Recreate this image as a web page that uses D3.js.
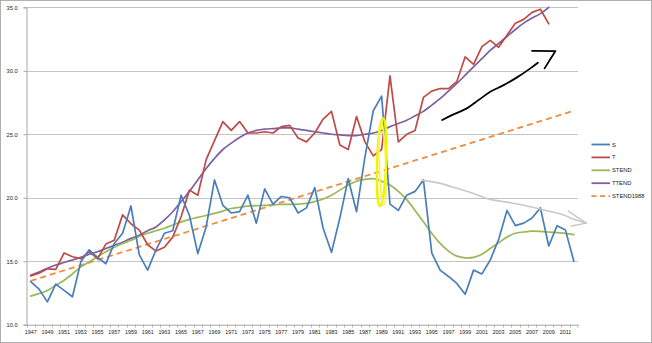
<!DOCTYPE html>
<html><head><meta charset="utf-8">
<script src="https://cdn.jsdelivr.net/npm/d3@7"></script>
<style>html,body{margin:0;padding:0;background:#fff;}svg{display:block;}</style>
</head><body>
<svg id="c" width="652" height="343"></svg>
<script>
const years = d3.range(1947, 2013);
const S = [13.4,12.8,11.8,13.2,12.7,12.2,14.95,15.9,15.3,14.8,16.4,17.2,19.35,15.5,14.3,15.9,17.2,17.4,20.2,18.6,15.6,17.7,21.4,19.4,18.8,18.9,20.2,18.0,20.7,19.5,20.1,20.0,18.8,19.2,20.8,17.6,15.7,18.4,21.5,18.9,23.2,26.85,28.0,19.5,19.0,20.2,20.5,21.4,15.65,14.3,13.8,13.25,12.4,14.3,14.0,15.1,16.7,19.0,17.8,18.0,18.4,19.2,16.2,17.8,17.45,15.0];
const T = [13.85,14.05,14.4,14.35,15.65,15.35,15.2,15.75,15.2,16.35,16.65,18.65,17.95,17.45,16.3,15.8,16.1,16.9,18.5,20.6,20.2,23.0,24.5,26.0,25.3,26.0,25.1,25.1,25.2,25.1,25.6,25.7,24.7,24.4,25.1,26.2,26.8,24.15,23.8,26.4,24.4,23.3,23.8,29.6,24.4,25.0,25.3,27.9,28.4,28.6,28.6,29.15,31.1,30.5,31.9,32.4,31.85,32.8,33.75,34.05,34.6,34.85,33.7];
const STEND = [12.25,12.45,12.7,13.1,13.5,14.0,14.55,14.95,15.35,15.75,16.1,16.4,16.65,16.95,17.2,17.4,17.6,17.85,18.1,18.3,18.45,18.6,18.77,18.95,19.15,19.25,19.34,19.38,19.4,19.45,19.47,19.48,19.5,19.55,19.7,19.9,20.2,20.6,21.0,21.3,21.45,21.5,21.3,21.0,20.5,19.85,19.0,18.1,17.2,16.4,15.8,15.4,15.27,15.3,15.55,16.0,16.45,16.9,17.2,17.3,17.37,17.35,17.3,17.25,17.2,17.1];
const TTEND = [13.9,14.15,14.45,14.7,14.9,15.1,15.3,15.55,15.75,16.0,16.25,16.5,16.8,17.05,17.4,17.7,18.25,18.9,19.7,20.5,21.4,22.3,23.1,23.8,24.3,24.75,25.1,25.3,25.4,25.45,25.5,25.5,25.4,25.3,25.2,25.1,25.0,24.95,24.9,24.9,25.0,25.1,25.3,25.6,25.85,26.1,26.45,26.8,27.3,27.8,28.4,29.0,29.65,30.3,30.95,31.6,32.15,32.7,33.25,33.75,34.15,34.5,35.0];
const STEND1988 = [13.45,13.66,13.86,14.07,14.27,14.48,14.69,14.89,15.10,15.31,15.51,15.72,15.92,16.13,16.34,16.54,16.75,16.96,17.16,17.37,17.57,17.78,17.99,18.19,18.40,18.61,18.81,19.02,19.22,19.43,19.64,19.84,20.05,20.25,20.46,20.67,20.87,21.08,21.29,21.49,21.70,21.90,22.11,22.32,22.52,22.73,22.94,23.14,23.35,23.55,23.76,23.97,24.17,24.38,24.58,24.79,25.00,25.20,25.41,25.62,25.82,26.03,26.23,26.44,26.65,26.85];
const yTicks = [10,15,20,25,30,35];
const seriesNames = ["S","T","STEND","TTEND","STEND1988"];
const colors = ["#4a7ebb","#be4b48","#98b954","#7d60a0","#f38b3c"];

// hand-drawn annotations (year, value)
const blackStroke = [[1996.25,26.12],[1997.4,26.51],[1999.2,27.04],[2000.6,27.69],[2002.0,28.35],[2003.6,28.87],[2005.2,29.48],[2006.8,30.19],[2007.7,30.63]];
const blackHook = [[2007.0,31.57],[2009.8,31.55],[2008.5,30.19]];
const grayStroke = [[1993.8,21.39],[1996.0,21.13],[1998.0,20.74],[2000.0,20.34],[2002.0,19.87],[2004.4,19.61],[2006.8,19.29],[2008.8,18.98],[2010.8,18.64],[2011.9,18.32],[2013.5,18.0]];
const grayHead = [[2011.33,18.95],[2013.5,18.0],[2011.7,17.77]];
const yellowMark = [1989.0, 22.8];

const svg = d3.select("#c");
const font = "'Liberation Sans', Arial, sans-serif";
svg.append("rect").attr("x",0.5).attr("y",0.5).attr("width",651).attr("height",342).attr("fill","#fff").attr("stroke","#b0b0b0").attr("stroke-width",1);

const x = d3.scaleBand().domain(years).range([26.5, 578]);
const bw = x.bandwidth();
const cx = d => x(d) + bw/2;
const y = d3.scaleLinear().domain([10,35]).range([324.7, 7.3]);
const xl = d3.scaleLinear().domain([1947,2012]).range([cx(1947), cx(2012)]);

// gridlines
svg.append("g").selectAll("line").data(yTicks.filter(t=>t>10)).join("line")
  .attr("x1",26.5).attr("x2",578).attr("y1",d=>Math.round(y(d))+0.5).attr("y2",d=>Math.round(y(d))+0.5)
  .attr("stroke","#c4c4c4").attr("stroke-width",1);

// y axis
const yAxis = svg.append("g").attr("transform","translate(26.5,0)")
  .call(d3.axisLeft(y).tickValues(yTicks).tickSize(3).tickFormat(d3.format(".1f")));
yAxis.select(".domain").attr("stroke","#a6a6a6");
yAxis.selectAll(".tick line").attr("stroke","#a6a6a6");
yAxis.selectAll("text").attr("font-family",font).attr("font-size","5.6px").attr("fill","#222").attr("x",-9);

// x axis
const xAxis = svg.append("g").attr("transform","translate(0,324.7)")
  .call(d3.axisBottom(x).tickSize(0).tickFormat(d => (d%2===1)? String(d) : ""));
xAxis.select(".domain").attr("stroke","#a6a6a6");
xAxis.selectAll("text").attr("font-family",font).attr("font-size","5.4px").attr("fill","#222").attr("dy","0.2em").attr("y",8);
svg.append("g").selectAll("line").data(years.concat([2013])).join("line")
  .attr("x1",d=> d===2013 ? 578 : Math.round(x(d))+0.5).attr("x2",d=> d===2013 ? 578 : Math.round(x(d))+0.5)
  .attr("y1",324.7).attr("y2",327.5).attr("stroke","#a6a6a6").attr("stroke-width",0.8);

const mk = (vals) => vals.map((v,i)=>[cx(years[i]), y(v)]);
const lineStraight = d3.line();
const lineSmooth = d3.line().curve(d3.curveCatmullRom.alpha(0.5));

const g = svg.append("g").attr("fill","none").attr("stroke-linejoin","round").attr("stroke-linecap","round");
g.append("path").attr("d",lineStraight(mk(STEND1988))).attr("stroke",colors[4]).attr("stroke-width",1.8).attr("stroke-dasharray","6,4").attr("stroke-linecap","butt");
g.append("path").attr("d",lineSmooth(mk(TTEND))).attr("stroke",colors[3]).attr("stroke-width",1.7);
g.append("path").attr("d",lineSmooth(mk(STEND))).attr("stroke",colors[2]).attr("stroke-width",1.7);
g.append("path").attr("d",lineStraight(mk(T))).attr("stroke",colors[1]).attr("stroke-width",1.7);
g.append("path").attr("d",lineStraight(mk(S))).attr("stroke",colors[0]).attr("stroke-width",1.7);

// annotations
const ann = svg.append("g").attr("fill","none").attr("stroke-linecap","round").attr("stroke-linejoin","round");
const aLine = d3.line().x(d=>xl(d[0])).y(d=>y(d[1])).curve(d3.curveCatmullRom);
const aLineS = d3.line().x(d=>xl(d[0])).y(d=>y(d[1]));
ann.append("path").attr("d",aLine(grayStroke)).attr("stroke","#c8c8c8").attr("stroke-width",1.6);
ann.append("path").attr("d",aLineS(grayHead)).attr("stroke","#c8c8c8").attr("stroke-width",1.4);
ann.append("path").attr("d",aLine(blackStroke)).attr("stroke","#000").attr("stroke-width",1.8);
ann.append("path").attr("d",aLineS(blackHook)).attr("stroke","#000").attr("stroke-width",1.8);
const ex = xl(yellowMark[0]), ey = y(yellowMark[1]);
ann.append("ellipse").attr("cx",ex).attr("cy",ey).attr("rx",4.5).attr("ry",44).attr("stroke","#f2f200").attr("stroke-width",2.4)
  .attr("transform",`rotate(2,${ex},${ey})`);
ann.append("ellipse").attr("cx",ex+0.8).attr("cy",ey+1).attr("rx",3.2).attr("ry",42).attr("stroke","#f6f640").attr("stroke-width",1.6)
  .attr("transform",`rotate(-2,${ex},${ey})`);

// legend
const leg = svg.append("g");
const legY0 = 144.5, legStep = 12.9;
seriesNames.forEach((n,i)=>{
  const yy = legY0 + i*legStep;
  leg.append("line").attr("x1",591.5).attr("x2",610).attr("y1",yy).attr("y2",yy)
    .attr("stroke",colors[i]).attr("stroke-width",1.8)
    .attr("stroke-dasharray", n==="STEND1988" ? "5,3.5" : null);
  leg.append("text").attr("x",612).attr("y",yy).attr("dy","0.35em").attr("font-family",font)
    .attr("font-size","5.8px").attr("fill","#222").text(n);
});
</script>
</body></html>
